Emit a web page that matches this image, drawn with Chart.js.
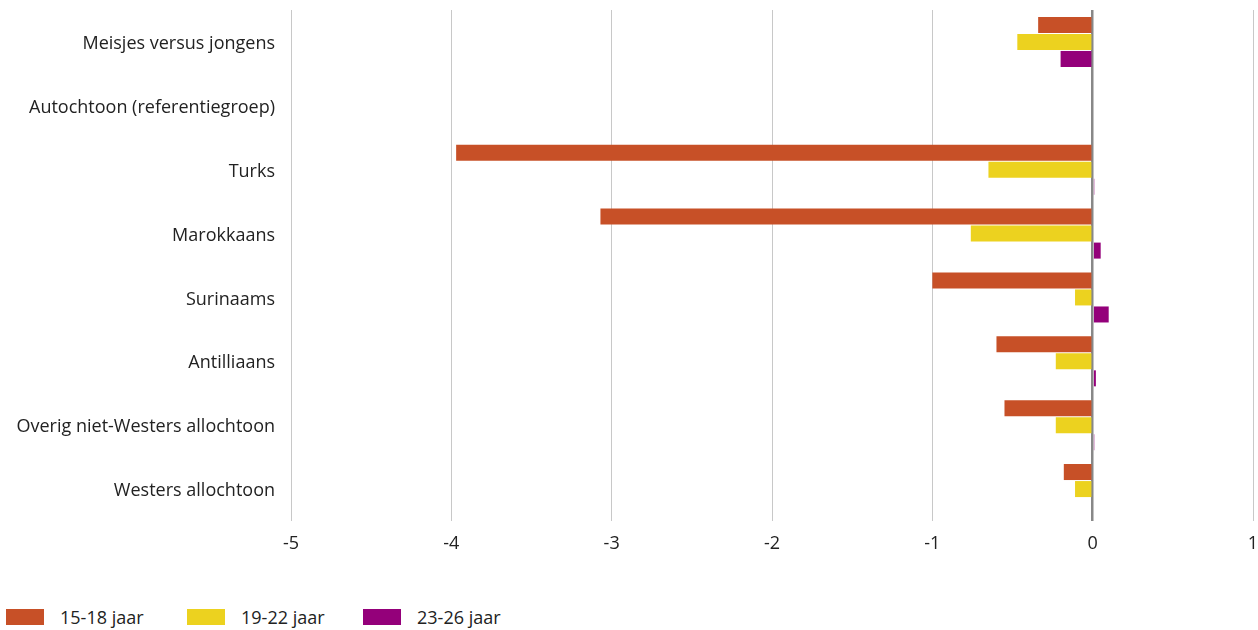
<!DOCTYPE html>
<html>
<head>
<meta charset="utf-8">
<script src="https://cdn.jsdelivr.net/npm/chart.js"></script>
<style>
    body { margin: 0; background: #fff; font-family: 'Open Sans', sans-serif; }
    #wrap { position: relative; width: 1258px; height: 630px; }
    #chartBox { position: absolute; left: 0; top: 0; width: 1258px; height: 570px; }
    #legend { position: absolute; left: 6px; top: 605px; display: flex; font-size: 18px; color: #222; }
    .item { display: flex; align-items: center; }
    .box { width: 38px; height: 16px; margin-right: 16px; }
</style>
</head>
<body>
<div id="wrap">
    <div id="chartBox"><canvas id="barChart"></canvas></div>
    <div id="legend"></div>
</div>
<script>
Chart.defaults.color = '#222';
Chart.defaults.font.family = "'Open Sans', sans-serif";
Chart.defaults.font.size = 18;

const groups = [
    'Meisjes versus jongens',
    'Autochtoon (referentiegroep)',
    'Turks',
    'Marokkaans',
    'Surinaams',
    'Antilliaans',
    'Overig niet-Westers allochtoon',
    'Westers allochtoon'
];

const seriesNames = ['15-18 jaar', '19-22 jaar', '23-26 jaar'];

const age15to18 = [-0.34, 0, -3.97, -3.07, -1.00, -0.60, -0.55, -0.18];
const age19to22 = [-0.47, 0, -0.65, -0.76, -0.11, -0.23, -0.23, -0.11];
const age23to26 = [-0.20, 0, 0.01, 0.05, 0.10, 0.02, 0.01, 0];

const colors = ['#C75027', '#ECD21F', '#94007A'];

const xTicks = [-5, -4, -3, -2, -1, 0, 1];

const allSeries = [age15to18, age19to22, age23to26];

new Chart(document.getElementById('barChart'), {
    type: 'bar',
    data: {
        labels: groups,
        datasets: allSeries.map((values, i) => ({
            label: seriesNames[i],
            data: values,
            backgroundColor: colors[i],
            borderWidth: 0,
            categoryPercentage: 0.8,
            barPercentage: 0.94
        }))
    },
    options: {
        indexAxis: 'y',
        responsive: true,
        maintainAspectRatio: false,
        animation: false,
        layout: {
            padding: { top: 10, left: 0, right: 0, bottom: 0 }
        },
        plugins: {
            legend: { display: false },
            tooltip: { enabled: false }
        },
        scales: {
            x: {
                min: xTicks[0],
                max: xTicks[xTicks.length - 1],
                afterBuildTicks: (scale) => {
                    scale.ticks = xTicks.map(v => ({ value: v }));
                },
                afterFit: (scale) => {
                    scale.height = 49;
                    scale.paddingLeft = 0;
                    scale.paddingRight = 5;
                },
                border: { display: false },
                grid: {
                    drawTicks: false,
                    color: (ctx) => ctx.tick && ctx.tick.value === 0 ? '#888888' : '#c8c8c8',
                    lineWidth: (ctx) => ctx.tick && ctx.tick.value === 0 ? 2.5 : 1
                },
                ticks: { padding: 12, maxRotation: 0 }
            },
            y: {
                afterFit: (scale) => {
                    scale.width = 291;
                    scale.paddingTop = 0;
                    scale.paddingBottom = 0;
                },
                border: { display: false },
                grid: { display: false, drawTicks: false },
                ticks: { padding: 16, labelOffset: 2 }
            }
        }
    }
});

// legenda onder de grafiek
const legend = document.getElementById('legend');
const legendX = [0, 181, 357];
seriesNames.forEach((name, i) => {
    const item = document.createElement('div');
    item.className = 'item';
    item.style.position = 'absolute';
    item.style.left = legendX[i] + 'px';
    item.style.whiteSpace = 'nowrap';
    item.innerHTML = '<span class="box" style="background:' + colors[i] + '"></span><span>' + name + '</span>';
    legend.appendChild(item);
});
</script>
</body>
</html>
